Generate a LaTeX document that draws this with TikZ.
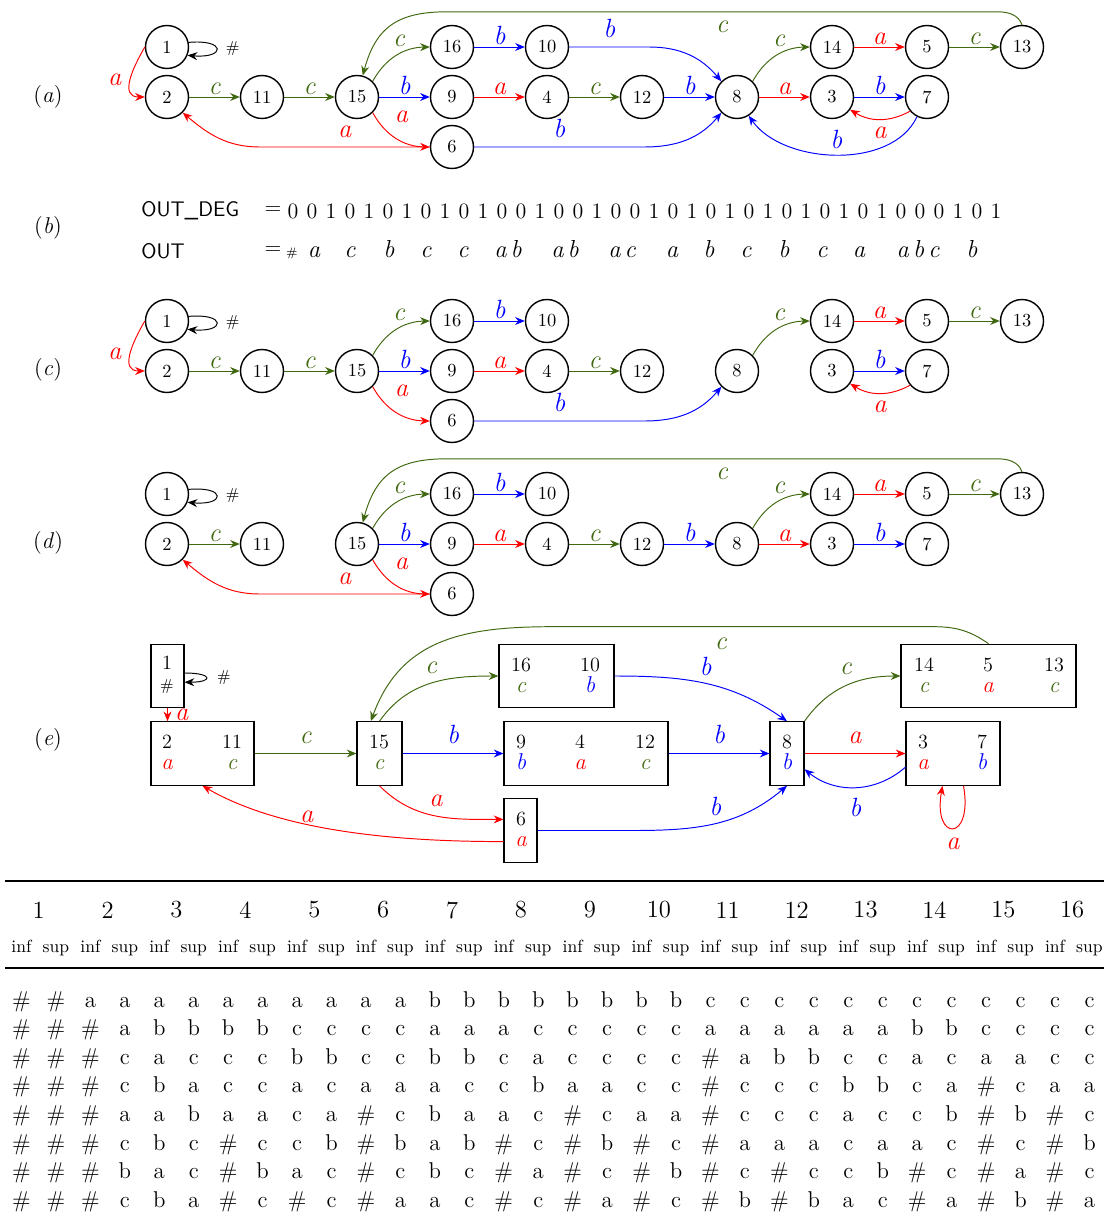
\documentclass[tikz,border=0pt]{standalone}
\usepackage{fontspec}
\usetikzlibrary{arrows.meta,positioning}
\definecolor{gc}{RGB}{64,104,16}
\tikzset{
  st/.style={circle,draw,line width=0.8pt,minimum size=0.86cm,inner sep=0pt,font=\fontsize{10.5}{12}\selectfont},
  ar/.style={-{Stealth[length=5.5pt,width=4.5pt]},line width=0.55pt},
  lbl/.style={inner sep=1pt,font=\fontsize{15}{17}\selectfont\itshape},
  hs/.style={inner sep=1pt,font=\fontsize{9}{10}\selectfont},
  tag/.style={font=\fontsize{13}{15}\selectfont},
  blk/.style={draw,rectangle,line width=0.65pt,minimum height=1.27cm,inner sep=0pt},
  bnum/.style={inner sep=0pt,font=\fontsize{11.5}{13}\selectfont},
  blab/.style={inner sep=0pt,anchor=base,font=\fontsize{13}{15}\selectfont\itshape},
  sq/.style={inner sep=0pt,font=\sffamily\fontsize{12}{14}\selectfont},
  dg/.style={inner sep=0pt,font=\fontsize{12.5}{14}\selectfont},
  ot/.style={inner sep=0pt,anchor=base,font=\fontsize{14}{16}\selectfont\itshape},
  hd/.style={inner sep=0pt,font=\fontsize{14}{16}\selectfont},
  sm/.style={inner sep=0pt,anchor=base,font=\fontsize{10}{12}\selectfont},
  cell/.style={inner sep=0pt,anchor=base,font=\fontsize{13}{15}\selectfont},
}
\begin{document}
\begin{tikzpicture}[x=0.02cm,y=0.02cm]
    \useasboundingbox (0,0) rectangle (1104,-1226);
    \node[tag] (ta) at (48,-97) {(\textit{a})};
    \node[tag] (tb) at (48,-228) {(\textit{b})};
    \node[tag] (tc) at (48,-370) {(\textit{c})};
    \node[tag] (td) at (48,-543) {(\textit{d})};
    \node[tag] (te) at (48,-740) {(\textit{e})};
    % graphs (a), (c), (d)
    \foreach \p/\y in {a/47,c/321,d/494}
      \foreach \n/\cc/\rr in {1/0/0,2/0/1,11/1/1,15/2/1,16/3/0,9/3/1,6/3/2,10/4/0,4/4/1,12/5/1,8/6/1,14/7/0,3/7/1,5/8/0,7/8/1,13/9/0}
        \node[st] (\p\n) at ({167+95*\cc},{-\y-50*\rr}) {\n};
    \foreach \p in {a,c,d}{
      \draw[ar] (\p1.12) to[out=5,in=-5,looseness=7.5] node[hs,right=4pt]{\#} (\p1.-22);
      \foreach \src/\dst/\lab/\col in {2/11/c/gc,15/9/b/blue,16/10/b/blue,9/4/a/red,4/12/c/gc,14/5/a/red,5/13/c/gc,3/7/b/blue}
        \draw[ar,color=\col] (\p\src) -- node[lbl,above]{\lab} (\p\dst);
      \draw[ar,gc] (\p15.north east) to[bend left=30] node[lbl,above=3pt,pos=.55]{c} (\p16.west);
      \draw[ar,red] (\p15.south east) to[bend right=30] node[lbl,above right=3pt and 4pt,pos=.3]{a} (\p6.west);
      \draw[ar,gc] (\p8.north east) to[bend left=30] node[lbl,above=3pt,pos=.55]{c} (\p14.west);
    }
    \foreach \p in {a,c}{
      \draw[ar,red] (\p1.west) to[out=-120,in=180,looseness=1.3] node[lbl,left=4pt]{a} (\p2.west);
      \draw[ar,gc] (\p11) -- node[lbl,above]{c} (\p15);
      \draw[ar,red] (\p7.-140) to[bend left=30] node[lbl,below=3pt]{a} (\p3.-35);
      \draw[ar,blue] (\p6.east) -- node[lbl,above=4pt]{b} ++(170,0) to[out=0,in=-130] (\p8.south west);
    }
    \foreach \p in {a,d}{
      \draw[ar,red] (\p6.west) -- node[lbl,above=4pt]{a} ++(-170,0) to[out=180,in=-40] (\p2.south east);
      \draw[ar,blue] (\p12) -- node[lbl,above]{b} (\p8);
      \draw[ar,red] (\p8) -- node[lbl,above]{a} (\p3);
      \draw[ar,gc] (\p13.north) to[out=110,in=0] ++(-25,13) -- node[lbl,below=4pt]{c} ++(-550,0) to[out=180,in=75,looseness=1.2] (\p15.75);
    }
    \draw[ar,blue] (a10.east) -- node[lbl,above=4pt]{b} ++(80,0) to[out=0,in=130] (a8.north west);
    \draw[ar,blue] (a7.-117) to[out=-115,in=-55,looseness=.9] node[lbl,above=2pt]{b} (a8.-58);
    % (b)
    \node[sq,anchor=west] (od) at (141,-211) {OUT\_DEG};
    \node[sq,anchor=west] (ou) at (141,-251) {OUT};
    \node[dg] (q1) at (273,-211) {=};
    \node[dg] (q2) at (273,-251) {=};
    \foreach \bit [count=\k from 0] in {0,0,1,0,1,0,1,0,1,0,1,0,0,1,0,0,1,0,0,1,0,1,0,1,0,1,0,1,0,1,0,1,0,0,0,1,0,1}
      \node[dg] (g\k) at ({293+19*\k},-211) {\bit};
    \node[inner sep=0pt,font=\fontsize{7}{8}\selectfont] (o0) at (292,-253) {\#};
    \foreach \x/\w [count=\k] in {314/a,350/c,389/b,426/c,463/c,508/a\,b,565/a\,b,622/a\,c,672/a,709/b,746/c,784/b,822/c,859/a,918/a\,b\,c,972/b}
      \node[ot] (o\k) at (\x,-258) {\w};
    % (e)
    \node[blk,minimum width=0.66cm] (e1) at (167.5,-676) {};
    \node[blk,minimum width=2.06cm] (e2) at (202.5,-753.5) {};
    \node[blk,minimum width=0.90cm] (e15) at (379.5,-753.5) {};
    \node[blk,minimum width=2.30cm] (e16) at (556.5,-676) {};
    \node[blk,minimum width=3.28cm] (e9) at (586,-753.5) {};
    \node[blk,minimum width=0.66cm] (e6) at (520.5,-830.5) {};
    \node[blk,minimum width=0.68cm] (e8) at (787,-753.5) {};
    \node[blk,minimum width=3.50cm] (e14) at (988.5,-676) {};
    \node[blk,minimum width=1.88cm] (e3) at (953,-753.5) {};
    \node[bnum] (t1) at (167,-663) {1};
    \node[hs] (l1) at (167,-687) {\#};
    \foreach \x/\y/\n/\lab/\col in {167/742/2/a/red,232/742/11/c/gc,379/742/15/c/gc,521/665/16/c/gc,590/665/10/b/blue,521/742/9/b/blue,580/742/4/a/red,645/742/12/c/gc,521/819/6/a/red,787/742/8/b/blue,924/665/14/c/gc,988/665/5/a/red,1054/665/13/c/gc,923/742/3/a/red,982/742/7/b/blue}{
      \node[bnum] (t\n) at (\x,-\y) {\n};
      \node[blab,text=\col] (l\n) at (\x,-\y-27) {\lab};
    }
    \draw[ar,red] (e1.south) -- node[lbl,right=3pt]{a} (e1.south |- e2.north);
    \draw[ar] (e1.10) to[out=0,in=0,looseness=8] node[hs,right=5pt]{\#} (e1.-20);
    \draw[ar,gc] (e2) -- node[lbl,above=4pt]{c} (e15);
    \draw[ar,blue] (e15) -- node[lbl,above=4pt]{b} (e9);
    \draw[ar,blue] (e9) -- node[lbl,above=4pt]{b} (e8);
    \draw[ar,red] (e8) -- node[lbl,above=4pt]{a} (e3);
    \draw[ar,gc] (e15.north) to[out=55,in=180] node[lbl,above=4pt]{c} (e16.west);
    \draw[ar,gc] (e14.north) to[out=145,in=0] ++(-55,17) -- node[lbl,below=5pt,pos=.56]{c} ++(-380,0) to[out=180,in=70,looseness=1.1] (e15.105);
    \draw[ar,red] (e15.south) to[out=-45,in=180] node[lbl,above=4pt]{a} (e6.147);
    \draw[ar,red] (e6.-147) to[out=180,in=-30,looseness=.8] node[lbl,above left=1pt,pos=.6]{a} (e2.south);
    \draw[ar,blue] (e16.east) to[out=0,in=145] node[lbl,above=3pt]{b} (e8.north);
    \draw[ar,blue] (e6.east) -- ++(95,0) to[out=0,in=-140] node[lbl,above=3pt]{b} (e8.south);
    \draw[ar,gc] (e8.north east) to[out=55,in=180] node[lbl,above=5pt]{c} (e14.west);
    \draw[ar,blue] (e3.196) to[bend left=40] node[lbl,below=5pt]{b} (e8.-42);
    \draw[ar,red] (e3.-72) to[out=-80,in=-100,looseness=7] node[lbl,below=4pt]{a} (e3.-108);
    % table
    \draw[line width=1.3pt] (5,-881) -- (1104,-881);
    \draw[line width=0.6pt] (5,-968) -- (1104,-968);
    \foreach \k in {1,...,16}
      \node[hd] (h\k) at ({38.7+68.9*(\k-1)},-910) {\k};
    \foreach \k in {0,...,15}{
      \node[sm] (i\k) at ({21.5+68.9*\k},-952) {inf};
      \node[sm] (s\k) at ({55.95+68.9*\k},-952) {sup};
    }
    \foreach \row [count=\rw from 0] in {
      {\#,\#,a,a,a,a,a,a,a,a,a,a,b,b,b,b,b,b,b,b,c,c,c,c,c,c,c,c,c,c,c,c},
      {\#,\#,\#,a,b,b,b,b,c,c,c,c,a,a,a,c,c,c,c,c,a,a,a,a,a,a,b,b,c,c,c,c},
      {\#,\#,\#,c,a,c,c,c,b,b,c,c,b,b,c,a,c,c,c,c,\#,a,b,b,c,c,a,c,a,a,c,c},
      {\#,\#,\#,c,b,a,c,c,a,c,a,a,a,c,c,b,a,a,c,c,\#,c,c,c,b,b,c,a,\#,c,a,a},
      {\#,\#,\#,a,a,b,a,a,c,a,\#,c,b,a,a,c,\#,c,a,a,\#,c,c,c,a,c,c,b,\#,b,\#,c},
      {\#,\#,\#,c,b,c,\#,c,c,b,\#,b,a,b,\#,c,\#,b,\#,c,\#,a,a,a,c,a,a,c,\#,c,\#,b},
      {\#,\#,\#,b,a,c,\#,b,a,c,\#,c,b,c,\#,a,\#,c,\#,b,\#,c,\#,c,c,b,\#,c,\#,a,\#,c},
      {\#,\#,\#,c,b,a,\#,c,\#,c,\#,a,a,c,\#,c,\#,a,\#,c,\#,b,\#,b,a,c,\#,a,\#,b,\#,a}}
      \foreach \ch [count=\k from 0] in \row
        \node[cell] (r\rw-\k) at ({21.5+34.45*\k},{-1007-28.6*\rw}) {\ch};
\end{tikzpicture}
\end{document}
